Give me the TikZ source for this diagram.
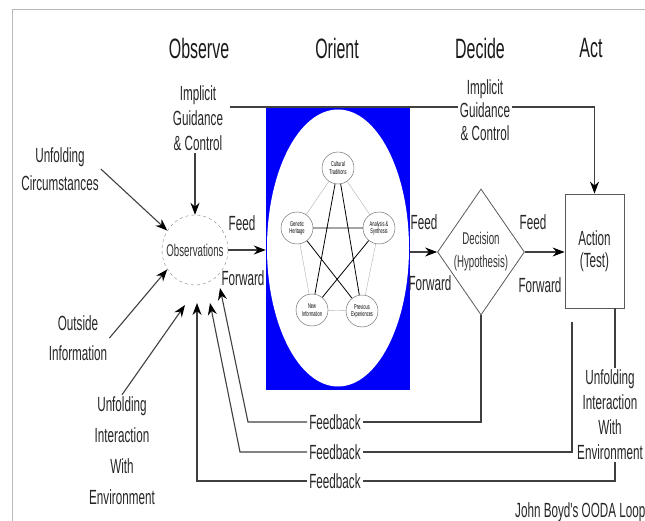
\documentclass[tikz,border=0pt]{standalone}
\usepackage{fontspec}
\usepackage{tikz}
\usetikzlibrary{arrows.meta, shapes.geometric}
\newfontfamily\narrowsans[FakeStretch=0.57]{Liberation Sans}
\definecolor{orientblue}{RGB}{0,0,250}
\tikzset{
    phase/.style={font=\narrowsans\fontsize{28}{30}\selectfont, text=black!90},
    lbl/.style={font=\narrowsans\fontsize{20.5}{25}\selectfont, align=center,
        inner sep=2pt, text=black!85},
    factor/.style={circle, draw=gray!70!black, fill=white, minimum size=32pt,
        inner sep=0pt, align=center, font=\narrowsans\fontsize{7}{7.5}\selectfont},
    flow/.style={draw=gray!50!black, line width=1.1pt},
    headed/.style={-{Stealth[length=12pt, width=9pt, black]}},
}

\begin{document}
\begin{tikzpicture}[x=1pt, y=-1pt]
    \useasboundingbox (0,0) rectangle (645,521);
    \draw[gray!55, line width=1pt]
        (12,521) -- (12,10) -- (645,10);

    \node[phase] (observe) at (199,48) {Observe};
    \node[phase] (orienthd) at (337,48) {Orient};
    \node[phase] (decide) at (480,48) {Decide};
    \node[phase] (acthd) at (591,48) {Act};

    \node[rectangle, fill=orientblue, minimum width=144pt, minimum height=283pt,
        inner sep=0pt] (orient) at (338,248.5) {};
    \node[ellipse, fill=white, minimum width=142pt, minimum height=277pt,
        inner sep=0pt] (oval) at (338,248) {};

    \node[factor] (cult) at (338,168) {Cultural\\Traditions};
    \node[factor] (gen) at (297,228) {Genetic\\Heritage};
    \node[factor] (ana) at (379,228) {Analysis \&\\Synthesis};
    \node[factor] (newinf) at (312,310) {New\\Information};
    \node[factor] (prev) at (362,311) {Previous\\Experiences};
    \draw[gray!60, thin]
        (cult) -- (gen) -- (newinf) -- (prev) -- (ana) -- (cult);
    \draw[black, line width=0.8pt]
        (cult) -- (newinf) (cult) -- (prev) (gen) -- (ana)
        (gen) -- (prev) (ana) -- (newinf);

    \node[ellipse, draw=gray, dashed, minimum width=66pt, minimum height=70pt,
        inner sep=0pt, label={[font=\narrowsans\fontsize{17}{18}\selectfont,
        text=black!80, inner sep=0pt]center:Observations}] (obs) at (195,250) {};
    \node[diamond, draw=gray!70!black, thick, minimum width=87pt,
        minimum height=126pt, inner sep=0pt,
        label={[font=\narrowsans\fontsize{17}{23}\selectfont, align=center,
        text=black!80]center:Decision\\(Hypothesis)}] (dec) at (481,252) {};
    \node[rectangle, draw=gray!70!black, thick, minimum width=59pt,
        minimum height=114pt, inner sep=0pt,
        label={[font=\narrowsans\fontsize{20.5}{22}\selectfont, align=center,
        text=black!85]center:Action\\(Test)}] (act) at (594.5,251) {};

    \node[lbl] (igL) at (198,118) {Implicit\\Guidance\\\& Control};
    \node[lbl, font=\narrowsans\fontsize{20.5}{23}\selectfont] (igR) at (485,110)
        {Implicit\\Guidance\\\& Control};
    \node[lbl, font=\narrowsans\fontsize{20.5}{28}\selectfont] (unfoldL) at (60,169)
        {Unfolding\\Circumstances};
    \node[lbl, font=\narrowsans\fontsize{20.5}{30}\selectfont] (outside) at (78,338)
        {Outside\\Information};
    \node[lbl, font=\narrowsans\fontsize{20.5}{31}\selectfont] (uiweL) at (122,451)
        {Unfolding\\Interaction\\With\\Environment};
    \node[lbl] (uiweR) at (610,415)
        {Unfolding\\Interaction\\With\\Environment};

    \node[lbl] (feed1) at (242,223) {Feed};
    \node[lbl] (fwd1) at (243,278) {Forward};
    \node[lbl] (feed2) at (424,222) {Feed};
    \node[lbl] (fwd2) at (430,283) {Forward};
    \node[lbl] (feed3) at (533,222) {Feed};
    \node[lbl] (fwd3) at (540,285) {Forward};

    \node[lbl] (fb1) at (335,422) {Feedback};
    \node[lbl] (fb2) at (335,452) {Feedback};
    \node[lbl] (fb3) at (335,481) {Feedback};
    \node[lbl, anchor=west] (caption) at (513,512) {John Boyd's OODA Loop};

    \coordinate (igstart) at (230,107);
    \coordinate (actout) at (615,308);
    \coordinate (fbstart2) at (572,322);
    \coordinate (bend1) at (248,422);
    \coordinate (bend2) at (240,452);
    \coordinate (tip1) at (220,288);
    \coordinate (tip2) at (210,303);
    \coordinate (tip3) at (197,303);
    \coordinate (tip4) at (185,305);

    \draw[flow]
        (igstart) -- (igR.west |- igstart);
    \draw[flow, headed]
        (igR.east |- igstart) -| (act.north);
    \draw[flow, headed]
        (obs.north |- igL.south) -- (obs.north);
    \draw[flow, headed]
        (unfoldL.east) -- (obs.145);
    \draw[flow, headed]
        (outside.east) -- (obs.215);
    \draw[flow, headed]
        (uiweL.north) -- (tip4);

    \draw[flow, headed]
        (obs.east) -- (orient.west |- obs.east);
    \draw[flow, headed]
        (orient.east |- dec.west) -- (dec.west);
    \draw[flow, headed]
        (dec.east) -- (act.west |- dec.east);

    \draw[flow]
        (dec.south) |- (fb1.east);
    \draw[flow, headed]
        (fb1.west) -- (bend1) -- (tip1);
    \draw[flow]
        (fbstart2) |- (fb2.east);
    \draw[flow, headed]
        (fb2.west) -- (bend2) -- (tip2);
    \draw[flow]
        (actout) -- (actout |- uiweR.north);
    \draw[flow]
        (actout |- uiweR.south) |- (fb3.east);
    \draw[flow, headed]
        (fb3.west) -| (tip3);
\end{tikzpicture}
\end{document}
